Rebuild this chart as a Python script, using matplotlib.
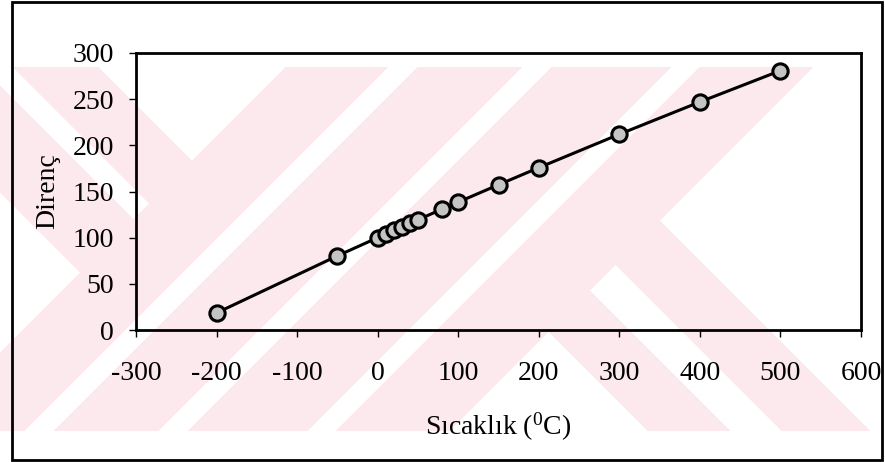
import numpy as np
import matplotlib
matplotlib.use("Agg")
import matplotlib.pyplot as plt
from matplotlib.patches import Rectangle

plt.rcParams['font.family'] = ['Liberation Serif', 'DejaVu Serif']
plt.rcParams['mathtext.fontset'] = 'custom'
plt.rcParams['mathtext.rm'] = 'Liberation Serif'
plt.rcParams['axes.unicode_minus'] = False

# Pt100 direnç - sıcaklık değerleri
temps = [-200, -50, 0, 10, 20, 30, 40, 50, 80, 100, 150, 200, 300, 400, 500]
resist = [18.5, 80.3, 100.0, 103.9, 107.8, 111.7, 115.5, 119.4, 130.9, 138.5,
          157.3, 175.8, 212.0, 247.0, 280.9]
x_ticks = [-300, -200, -100, 0, 100, 200, 300, 400, 500, 600]
y_ticks = [0, 50, 100, 150, 200, 250, 300]

W, H = 885, 462
fig = plt.figure(figsize=(W / 100, H / 100), dpi=100)

# background watermark (pink stripes of the scanned page)
yy, xx = np.mgrid[0:H, 0:W]
s = xx + yy
d = yy - xx
band = (yy >= 67) & (yy <= 430) & (xx <= 880)
left = (s < 352) & (((d > -32) & (d < 55)) | ((d > 85) & (d < 193)))
middle = (s >= 352) & (s < 880) & ~((s > 454) & (s < 484)) \
    & ~((s > 588) & (s < 618)) & ~((s > 737) & (s < 766))
right = (s >= 880) & (((d > -440) & (d < -350)) | ((d > -300) & (d < -216)))
mask = band & (left | middle | right)
img = np.ones((H, W, 3))
img[mask] = np.array([252, 233, 237]) / 255.0

bg = fig.add_axes([0, 0, 1, 1], zorder=0)
bg.imshow(img, extent=(0, W, H, 0), aspect='auto', interpolation='nearest')
bg.add_patch(Rectangle((12, 2), 870, 458, fill=False, lw=2.0, ec='black'))
bg.set_xlim(0, W)
bg.set_ylim(H, 0)
bg.axis('off')

ax = fig.add_axes([136 / W, 1 - 330 / H, (861 - 136) / W, (330 - 53) / H], zorder=1)
ax.patch.set_alpha(0)

ax.plot(temps, resist, color='black', lw=2.2, marker='o', markersize=11,
        markerfacecolor='#c4c4c4', markeredgecolor='black', markeredgewidth=2.2)

ax.set_xlim(-300, 600)
ax.set_ylim(0, 300)
ax.set_xticks(x_ticks)
ax.set_yticks(y_ticks)
for sp in ax.spines.values():
    sp.set_linewidth(2.0)
ax.tick_params(axis='both', direction='out', length=5, width=1, labelsize=20)
ax.tick_params(axis='x', pad=17)
ax.tick_params(axis='y', pad=11)

ax.set_xlabel('Sıcaklık ($\\mathregular{^0}$C)', fontsize=20)
ax.xaxis.set_label_coords(0.5, -0.29)
ax.set_ylabel('Direnç', fontsize=20)
ax.yaxis.set_label_coords(-0.105, 0.5)

fig.savefig('out.png', dpi=100)
